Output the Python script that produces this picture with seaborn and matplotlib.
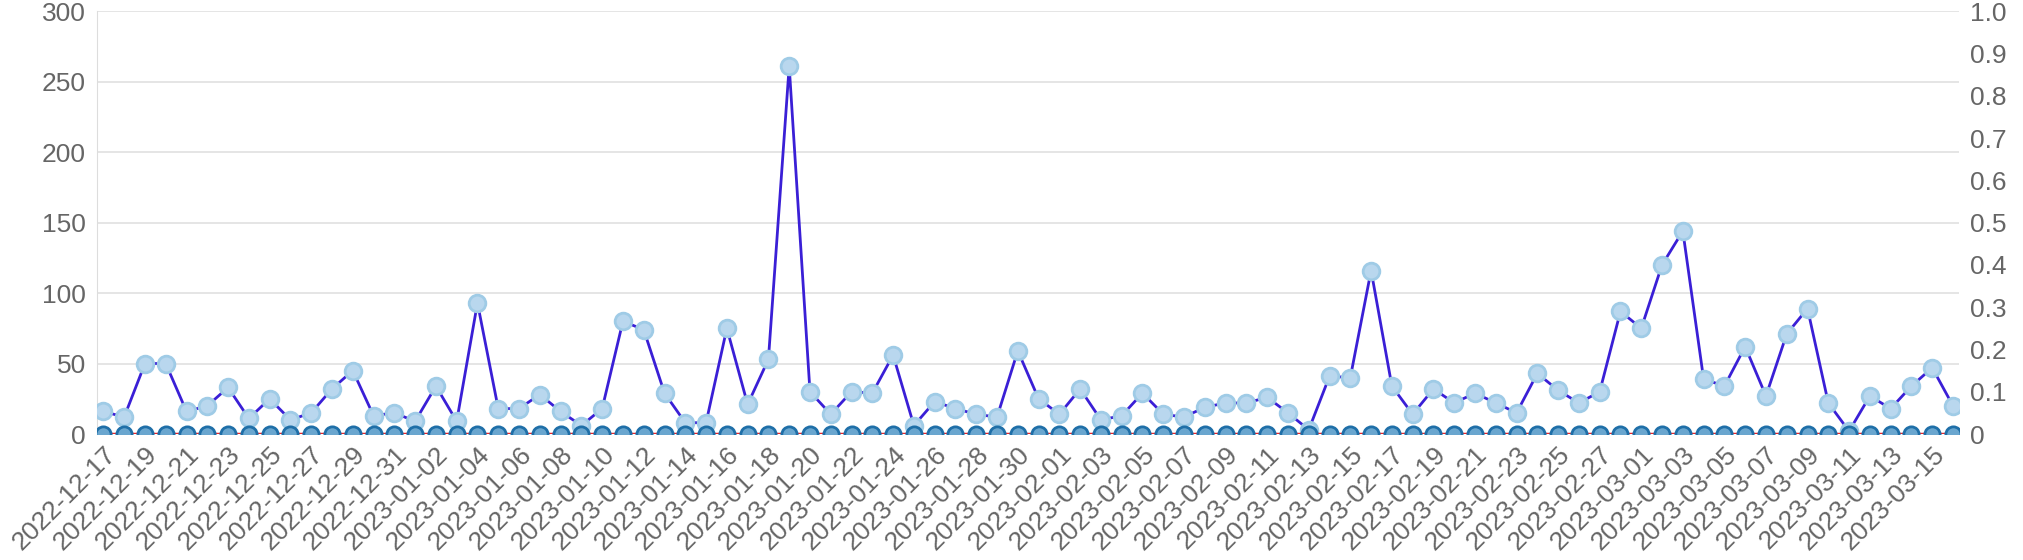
import matplotlib
matplotlib.use("Agg")
import matplotlib.pyplot as plt
import seaborn as sns
import pandas as pd
import numpy as np

dates = pd.date_range("2022-12-17", "2023-03-16", freq="D").strftime("%Y-%m-%d").tolist()
counts = [16,12,50,50,16,20,33,11,25,10,15,32,45,13,15,9,34,9,93,18,18,28,16,6,18,80,74,29,8,8,75,
          21,53,261,30,14,30,29,56,6,23,18,14,12,59,25,14,32,10,13,29,14,12,19,22,22,26,15,3,41,40,116,
          34,14,32,22,29,22,15,43,31,22,30,87,75,120,144,39,34,62,27,71,89,22,2,27,18,34,47,20]
rates = [0.0] * len(dates)

df = pd.DataFrame({"date": dates, "count": counts, "rate": rates})
df["pos"] = np.arange(len(df))

sns.set_style("white")
plt.rcParams["font.family"] = ["Liberation Sans", "DejaVu Sans"]
fig = plt.figure(figsize=(20.24, 5.6), dpi=100)
ax = fig.add_axes([0.048, 0.225, 0.92, 0.755])
ax2 = ax.twinx()

sns.lineplot(data=df, x="pos", y="count", ax=ax, color="#3a1fd6", linewidth=2,
             marker="o", markersize=12, markerfacecolor="#b9d7ee", markeredgecolor="#9fcbe6",
             markeredgewidth=2, zorder=3)
sns.lineplot(data=df, x="pos", y="rate", ax=ax2, color="#e8262a", linewidth=2.5,
             marker="o", markersize=11, markerfacecolor="#6aa6cf", markeredgecolor="#1f6fa8",
             markeredgewidth=2, zorder=2)

ax.set_ylim(0, 300)
ax.set_yticks(range(0, 301, 50))
ax2.set_ylim(0, 1)
ax2.set_yticks(np.round(np.arange(0, 1.01, 0.1), 1))
ax2.set_yticklabels(["0"] + [f"{v:.1f}" for v in np.arange(0.1, 0.95, 0.1)] + ["1.0"])
ax.set_xlim(-0.3, len(df) - 1 + 0.3)
ax.set_xticks(df["pos"][::2])
ax.set_xticklabels(df["date"][::2], rotation=45, ha="right", rotation_mode="anchor")
ax.set_xlabel("")
ax.set_ylabel("")
ax2.set_ylabel("")
ax.grid(axis="y", color="#e0e0e0", linewidth=1.2)
ax.set_axisbelow(True)
for a in (ax, ax2):
    for s in a.spines.values():
        s.set_visible(False)
    a.tick_params(length=0, labelsize=19, colors="#666666", pad=8)
ax.spines["left"].set_visible(True)
ax.spines["left"].set_color("#dddddd")
ax.tick_params(axis="x", labelsize=19, pad=6)

fig.savefig("out.png", dpi=100)
